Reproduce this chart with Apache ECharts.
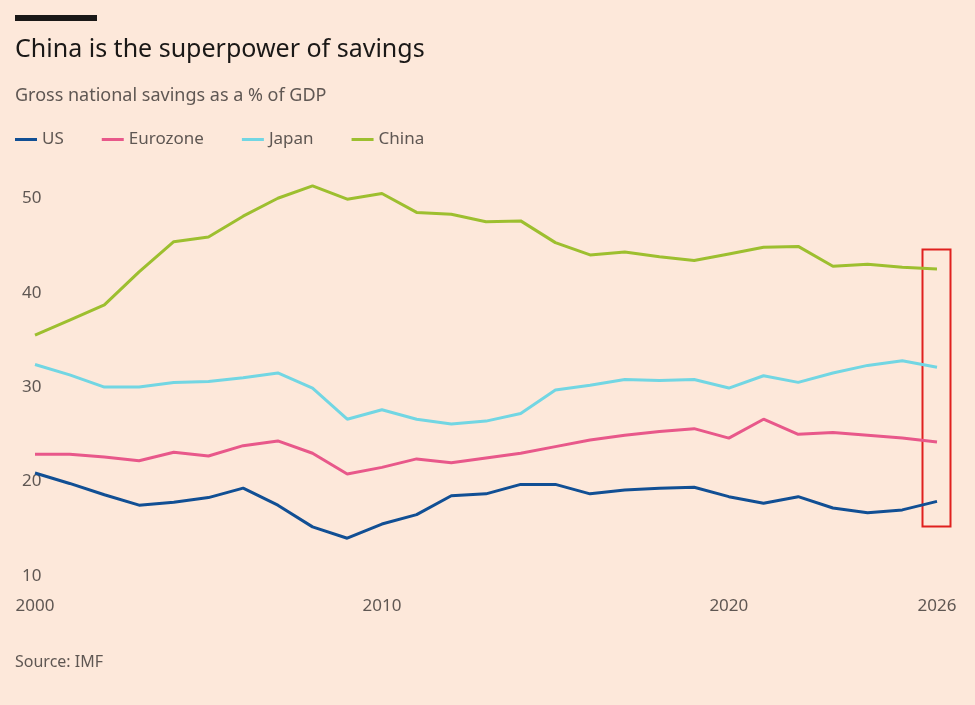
<!DOCTYPE html><html><head><meta charset="utf-8">
<script src="https://cdn.jsdelivr.net/npm/echarts@6/dist/echarts.min.js"></script>
<style>html,body{margin:0;background:#fde8da}#c{width:975px;height:705px}</style></head><body><div id="c"></div>
<script>
const years=[];for(let y=2000;y<=2026;y++)years.push(String(y));
const us=[20.9,19.8,18.6,17.5,17.8,18.3,19.3,17.5,15.2,14.0,15.5,16.5,18.5,18.7,19.7,19.7,18.7,19.1,19.3,19.4,18.4,17.7,18.4,17.2,16.7,17.0,17.9];
const eurozone=[22.9,22.9,22.6,22.2,23.1,22.7,23.8,24.3,23.0,20.8,21.5,22.4,22.0,22.5,23.0,23.7,24.4,24.9,25.3,25.6,24.6,26.6,25.0,25.2,24.9,24.6,24.2];
const japan=[32.4,31.3,30.0,30.0,30.5,30.6,31.0,31.5,29.9,26.6,27.6,26.6,26.1,26.4,27.2,29.7,30.2,30.8,30.7,30.8,29.9,31.2,30.5,31.5,32.3,32.8,32.1];
const china=[35.5,37.1,38.7,42.2,45.4,45.9,48.1,50.0,51.3,49.9,50.5,48.5,48.3,47.5,47.6,45.3,44.0,44.3,43.8,43.4,44.1,44.8,44.9,42.8,43.0,42.7,42.5];
const shownYears=['2000','2010','2020','2026'];
const names=['US','Eurozone','Japan','China'];
const colors=['#114f94','#e8588a','#72d6e3','#9dbf2f'];
const vals=[us,eurozone,japan,china];
const ch=echarts.init(document.getElementById('c'));
const font='"Noto Sans", sans-serif';
ch.setOption({
 backgroundColor:'#fde8da',
 textStyle:{fontFamily:font},
 title:[{text:'China is the superpower of savings',left:10,top:32,textStyle:{fontSize:25,fontWeight:'normal',color:'#1a1817',fontFamily:font}},
  {text:'Gross national savings as a % of GDP',left:10,top:82,textStyle:{fontSize:18,fontWeight:'normal',color:'#5f5753',fontFamily:font}},
  {text:'Source: IMF',left:10,top:649,textStyle:{fontSize:16,fontWeight:'normal',color:'#5f5753',fontFamily:font}}],
 legend:{left:10,top:126,itemWidth:22,itemHeight:3,itemGap:38,icon:'rect',textStyle:{fontSize:17,color:'#5f5753'},data:names},
 grid:{left:35,right:38,top:151,bottom:129},
 xAxis:{type:'category',data:years,boundaryGap:false,axisLine:{show:false},axisTick:{show:false},
  axisLabel:{interval:0,formatter:v=>shownYears.includes(v)?v:'',color:'#5f5753',fontSize:17,margin:22}},
 yAxis:{type:'value',min:10,max:55,interval:10,splitLine:{show:false},axisLine:{show:false},axisTick:{show:false},
  axisLabel:{formatter:v=>v<=50?String(v):'',color:'#5f5753',fontSize:17,align:'left',margin:13,verticalAlign:'middle'}},
 series:vals.map((d,i)=>({name:names[i],type:'line',data:d,showSymbol:false,color:colors[i],lineStyle:{width:3,color:colors[i]}})),
 graphic:[{type:'rect',left:15,top:15,shape:{width:82,height:6},style:{fill:'#1a1817'}},
  {type:'rect',left:920,top:247,shape:{width:28,height:277},style:{fill:'none',stroke:'#e0201e',lineWidth:2}}]
});
</script></body></html>
